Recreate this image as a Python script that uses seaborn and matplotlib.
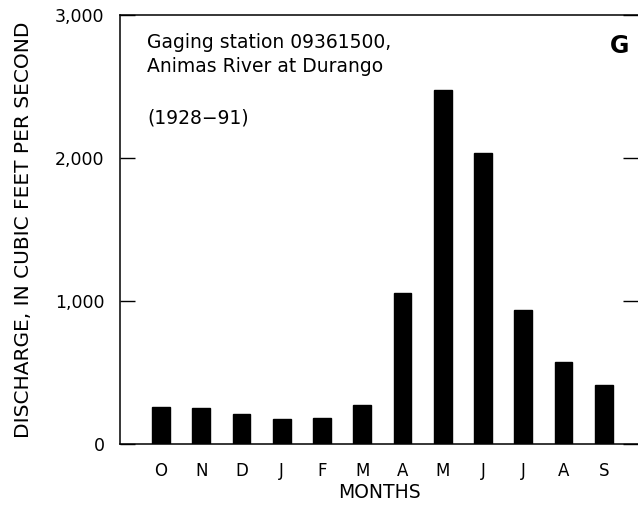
"""Mean monthly discharge, Animas River at Durango (1928-91)."""

import matplotlib
matplotlib.use("Agg")
import matplotlib.pyplot as plt
import pandas as pd
import seaborn as sns

# ---------------------------------------------------------------------------
# Data
# ---------------------------------------------------------------------------
months = ["O", "N", "D", "J", "F", "M", "A", "M", "J", "J", "A", "S"]
discharge = [261, 250, 210, 177, 180, 273, 1054, 2476, 2033, 937, 571, 417]
y_ticks = [0, 1000, 2000, 3000]
y_tick_labels = ["0", "1,000", "2,000", "3,000"]

df = pd.DataFrame({"pos": range(len(months)), "month": months, "cfs": discharge})

sns.set_style("white")
plt.rcParams["font.family"] = ["DejaVu Sans"]
plt.rcParams.update({
    "text.color": "black",
    "axes.labelcolor": "black",
    "xtick.color": "black",
    "ytick.color": "black",
})

fig = plt.figure(figsize=(6.38, 5.07), dpi=100)
ax = fig.add_axes([0.188, 0.124, 0.812, 0.846])

sns.barplot(data=df, x="pos", y="cfs", color="black", width=0.44,
            saturation=1, ax=ax, native_scale=True, edgecolor="black")

ax.set_xlim(-1.02, 11.85)
ax.set_ylim(0, 3000)
ax.set_xticks(range(len(months)))
ax.set_xticklabels(months, fontsize=12)
ax.set_yticks(y_ticks)
ax.set_yticklabels(y_tick_labels, fontsize=12.5)

ax.tick_params(axis="x", length=0, pad=13)
ax.tick_params(axis="y", direction="in", length=11, width=1, pad=11,
               right=True, left=True)
for side in ["left", "bottom", "top"]:
    ax.spines[side].set_visible(True)
    ax.spines[side].set_linewidth(1.1)
    ax.spines[side].set_color("black")
ax.spines["right"].set_visible(False)

ax.set_xlabel("MONTHS", fontsize=13.5, labelpad=2)
ax.set_ylabel("DISCHARGE, IN CUBIC FEET PER SECOND", fontsize=14.5,
              labelpad=16)

ax.text(0.052, 0.923, "Gaging station 09361500,", transform=ax.transAxes,
        fontsize=13.5, va="baseline", ha="left")
ax.text(0.052, 0.867, "Animas River at Durango", transform=ax.transAxes,
        fontsize=13.5, va="baseline", ha="left")
ax.text(0.052, 0.748, "(1928\u221291)", transform=ax.transAxes,
        fontsize=13.5, va="baseline", ha="left")
ax.text(0.983, 0.911, "G", transform=ax.transAxes, fontsize=17,
        fontweight="bold", va="baseline", ha="right")

fig.savefig("out.png", dpi=100)
plt.close(fig)
